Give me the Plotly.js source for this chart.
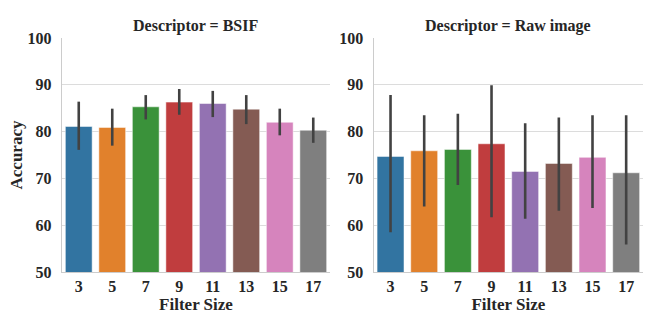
<!DOCTYPE html>
<html><head><meta charset="utf-8">
<script src="https://cdn.plot.ly/plotly-3.0.1.min.js"></script>
<style>html,body{margin:0;padding:0;background:#fff}#c{width:662px;height:332px}</style>
</head><body><div id="c"></div>
<script>
const filterSizes = ['3','5','7','9','11','13','15','17'];
const bsifMean = [81.1, 80.9, 85.3, 86.3, 86.0, 84.8, 82.0, 80.3];
const bsifHigh = [86.4, 84.9, 87.8, 89.1, 88.7, 87.8, 84.9, 83.0];
const bsifLow  = [76.1, 77.0, 82.6, 83.6, 83.1, 81.6, 79.2, 77.6];
const rawMean = [74.7, 75.9, 76.2, 77.4, 71.5, 73.2, 74.5, 71.2];
const rawHigh = [87.8, 83.5, 83.8, 89.9, 81.8, 83.0, 83.5, 83.5];
const rawLow  = [58.5, 64.0, 68.6, 61.7, 61.4, 63.1, 63.7, 55.9];
const yTicks = [50, 60, 70, 80, 90, 100];
const barColors = ['#3274a1','#e1812c','#3a923a','#c03d3e','#9372b2','#845b53','#d684bd','#7f7f7f'];

const font = {family:'"Liberation Serif", "Times New Roman", serif', color:'#262626'};
function trace(mean, hi, lo, xa, ya){
  return {
    type:'bar', x: filterSizes, y: mean, xaxis: xa, yaxis: ya,
    marker:{color: barColors, line:{color:'rgba(255,255,255,0.5)', width:1}},
    error_y:{type:'data', symmetric:false,
      array: hi.map((h,i)=>h-mean[i]), arrayminus: mean.map((m,i)=>m-lo[i]),
      color:'#424242', thickness:2.6, width:0},
    showlegend:false, hoverinfo:'skip'
  };
}
const yax = {range:[50,100], tickvals:yTicks, ticktext:yTicks.map(v=>'<b>'+v+'</b>'),
  showgrid:true, gridcolor:'#dcdcdc', gridwidth:1,
  showline:true, linecolor:'#cccccc', linewidth:1.2, zeroline:false, ticks:'',
  tickfont:{...font, size:16}, ticklabelstandoff:6};
const xax = {type:'category', showline:true, linecolor:'#cccccc', linewidth:1.2, ticks:'', showgrid:false,
  tickvals:filterSizes, ticktext:filterSizes.map(v=>'<b>'+v+'</b>'),
  tickfont:{...font, size:16}, ticklabelstandoff:0,
  title:{text:'<b>Filter Size</b>', font:{...font, size:17}, standoff:0}};

const layout = {
  width:662, height:332, margin:{l:62, r:19, t:38, b:60},
  paper_bgcolor:'#fff', plot_bgcolor:'#fff', bargap:0.2, font:font,
  xaxis: {...xax, domain:[0,0.4613], anchor:'y'},
  xaxis2:{...xax, domain:[0.5365,1], anchor:'y2'},
  yaxis: {...yax, anchor:'x', title:{text:'<b>Accuracy</b>', font:{...font, size:17}, standoff:0}},
  yaxis2:{...yax, anchor:'x2'},
  annotations:[
    {text:'<b>Descriptor = BSIF</b>', xref:'paper', yref:'paper', x:0.2306, y:1, yshift:12, xanchor:'center', yanchor:'middle', showarrow:false, font:{...font, size:16}},
    {text:'<b>Descriptor = Raw image</b>', xref:'paper', yref:'paper', x:0.7683, y:1, yshift:12, xanchor:'center', yanchor:'middle', showarrow:false, font:{...font, size:16}}
  ]
};
Plotly.newPlot('c', [trace(bsifMean,bsifHigh,bsifLow,'x','y'), trace(rawMean,rawHigh,rawLow,'x2','y2')], layout, {staticPlot:true});
</script></body></html>
